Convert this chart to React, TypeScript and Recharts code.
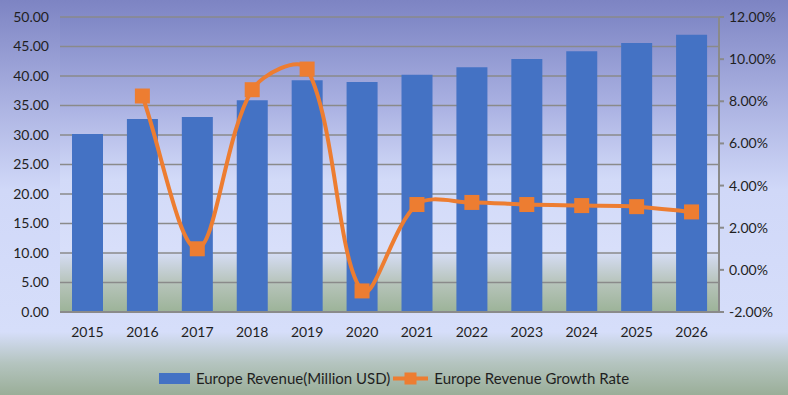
import React from "react";
import { ComposedChart, Bar, Line, XAxis, YAxis, CartesianGrid, Legend } from "recharts";

const years = ["2015","2016","2017","2018","2019","2020","2021","2022","2023","2024","2025","2026"];
const revenue = [30.17, 32.7, 33.05, 35.9, 39.3, 39.0, 40.2, 41.5, 42.9, 44.2, 45.6, 47.0];
const growth: (number | null)[] = [null, 8.25, 1.0, 8.55, 9.53, -1.0, 3.1, 3.2, 3.1, 3.05, 3.0, 2.75];
const leftTicks = [0, 5, 10, 15, 20, 25, 30, 35, 40, 45, 50];
const rightTicks = [-2, 0, 2, 4, 6, 8, 10, 12];

const data = years.map((y, i) => ({ year: y, revenue: revenue[i], growth: growth[i] }));

const BLUE = "#4472C4";
const ORANGE = "#ED7D31";
const GRID = "#8a8a8a";
const TXT = "#1f1f1f";

// excel-ish smoothing: tangent split by neighbouring segment lengths
function smooth(context: any) {
  let pts: number[][] = [];
  const dist = (a: number[], b: number[]) => Math.hypot(b[0] - a[0], b[1] - a[1]);
  return {
    areaStart() {},
    areaEnd() {},
    lineStart() { pts = []; },
    lineEnd() {
      if (!pts.length) return;
      context.moveTo(pts[0][0], pts[0][1]);
      const arms = pts.map((p, i) => {
        const a = pts[i - 1] || p, b = pts[i + 1] || p;
        const d0 = dist(a, p), d1 = dist(p, b), s = d0 + d1 || 1;
        const tx = b[0] - a[0], ty = b[1] - a[1];
        return { inX: tx * d0 / s / 3, inY: ty * d0 / s / 3, outX: tx * d1 / s / 3, outY: ty * d1 / s / 3 };
      });
      for (let i = 0; i < pts.length - 1; i++) {
        const p1 = pts[i], p2 = pts[i + 1];
        context.bezierCurveTo(
          p1[0] + arms[i].outX, p1[1] + arms[i].outY,
          p2[0] - arms[i + 1].inX, p2[1] - arms[i + 1].inY,
          p2[0], p2[1]
        );
      }
    },
    point(x: number, y: number) { pts.push([+x, +y]); },
  };
}

const SquareDot = (p: any) => {
  if (p.cx == null || p.cy == null || p.value == null) return <g key={p.index} />;
  return <rect key={p.index} x={p.cx - 7.5} y={p.cy - 7.5} width={15} height={15} fill={ORANGE} />;
};

const LegendBox = () => (
  <div style={{ height: 53, paddingTop: 20, boxSizing: "border-box", display: "flex", justifyContent: "center", fontSize: 15, color: TXT, lineHeight: "15px" }}>
    <span style={{ display: "inline-flex", alignItems: "center", marginRight: 3 }}>
      <span style={{ display: "inline-block", width: 31, height: 11, background: BLUE, marginRight: 6 }} />
      Europe Revenue(Million USD)
    </span>
    <span style={{ display: "inline-flex", alignItems: "center" }}>
      <svg width={35} height={13} style={{ marginRight: 6 }}>
        <line x1={0} y1={6.5} x2={35} y2={6.5} stroke={ORANGE} strokeWidth={4} />
        <rect x={11.5} y={0.5} width={12} height={12} fill={ORANGE} />
      </svg>
      Europe Revenue Growth Rate
    </span>
  </div>
);

export default function App() {
  return (
    <div style={{
      position: "absolute", left: 0, top: 0, width: 788, height: 395, fontFamily: "Lato, sans-serif",
      background: "linear-gradient(180deg, #7d84c3 0%, #a9b0e0 25%, #d0d8f8 48%, #d6defa 84%, #b4c4bf 92%, #9aae98 100%)",
    }}>
      <ComposedChart width={788} height={395} data={data} margin={{ top: 17, right: 0, bottom: 0, left: 0 }}>
        <defs>
          <linearGradient id="plotBg" x1="0" y1="0" x2="0" y2="1">
            <stop offset="0%" stopColor="#8088c6" />
            <stop offset="30%" stopColor="#aab1e2" />
            <stop offset="55%" stopColor="#d2daf8" />
            <stop offset="79%" stopColor="#d8dffa" />
            <stop offset="90%" stopColor="#b7c4bb" />
            <stop offset="100%" stopColor="#9cb398" />
          </linearGradient>
        </defs>
        <CartesianGrid yAxisId="left" vertical={false} stroke={GRID} strokeWidth={1.5} fill="url(#plotBg)" fillOpacity={1} />
        <XAxis dataKey="year" height={30} tickLine={false} tickSize={0} tickMargin={15}
          axisLine={{ stroke: GRID, strokeWidth: 2 }} tick={{ fontSize: 14, fill: TXT }} interval={0} />
        <YAxis yAxisId="left" width={60} domain={[0, 50]} ticks={leftTicks} axisLine={false} tickLine={false}
          tickSize={0} tickMargin={11} tick={{ fontSize: 14, fill: TXT }} tickFormatter={(v: number) => v.toFixed(2)} />
        <YAxis yAxisId="right" orientation="right" width={69} domain={[-2, 12]} ticks={rightTicks}
          axisLine={{ stroke: GRID, strokeWidth: 2 }} tickLine={{ stroke: GRID, strokeWidth: 2 }} tickSize={5} tickMargin={5}
          tick={{ fontSize: 14, fill: TXT }} tickFormatter={(v: number) => `${v.toFixed(2)}%`} />
        <Legend verticalAlign="bottom" content={() => <LegendBox />} />
        <Bar yAxisId="left" dataKey="revenue" fill={BLUE} barSize={31} isAnimationActive={false} />
        <Line yAxisId="right" dataKey="growth" type={smooth as any} stroke={ORANGE} strokeWidth={4}
          dot={SquareDot} activeDot={false} connectNulls={false} isAnimationActive={false} />
      </ComposedChart>
    </div>
  );
}
